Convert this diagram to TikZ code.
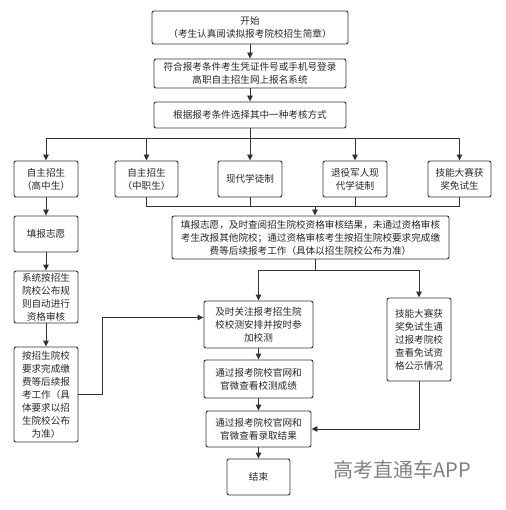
\documentclass[tikz,border=0pt]{standalone}
\usepackage{fontspec}
\setmainfont{Noto Sans CJK SC}
\usepackage{tikz}
\usetikzlibrary{arrows.meta}

\begin{document}
\begin{tikzpicture}[x=1pt,y=-1pt,
    box/.style={draw=black!80, line width=0.9pt, rounded corners=2pt, align=center,
      inner sep=0pt, font=\fontsize{9.6}{13}\selectfont, text=black!85},
    arr/.style={-{Triangle[length=6pt,width=5.5pt]}, draw=black!80, line width=0.9pt},
    ln/.style={draw=black!80, line width=0.9pt}]
    \useasboundingbox (0,0) rectangle (505,510);
    \node[box, minimum width=196pt, minimum height=33pt] (start) at (250,27.5) {开始\\（考生认真阅读拟报考院校招生简章）};
    \node[box, minimum width=192pt, minimum height=29pt] (login) at (250,73.5) {符合报考条件考生凭证件号或手机号登录\\高职自主招生网上报名系统};
    \node[box, minimum width=192pt, minimum height=26pt] (choose) at (250,115) {根据报考条件选择其中一种考核方式};
    \node[box, minimum width=64pt, minimum height=36pt] (a1) at (46,179) {自主招生\\（高中生）};
    \node[box, minimum width=63pt, minimum height=36pt] (a2) at (146.5,179) {自主招生\\（中职生）};
    \node[box, minimum width=64pt, minimum height=36pt] (a3) at (250,179) {现代学徒制};
    \node[box, minimum width=64pt, minimum height=36pt] (a4) at (355,179) {退役军人现\\代学徒制};
    \node[box, minimum width=63pt, minimum height=36pt] (a5) at (459.5,179) {技能大赛获\\奖免试生};
    \node[box, minimum width=64pt, minimum height=36pt] (fill) at (46,234) {填报志愿};
    \node[box, minimum width=64pt, minimum height=52pt] (sys) at (46,297) {系统按招生\\院校公布规\\则自动进行\\资格审核};
    \node[box, minimum width=64pt, minimum height=95pt] (pay) at (46,394.5) {按招生院校\\要求完成缴\\费等后续报\\考工作（具\\体要求以招\\生院校公布\\为准）};
    \node[box, minimum width=277pt, minimum height=43pt] (big) at (310.5,237.5) {填报志愿，及时查阅招生院校资格审核结果，未通过资格审核\\考生改报其他院校；通过资格审核考生按招生院校要求完成缴\\费等后续报考工作（具体以招生院校公布为准）};
    \node[box, minimum width=109pt, minimum height=47pt] (follow) at (258.5,324.5) {及时关注报考招生院\\校校测安排并按时参\\加校测};
    \node[box, minimum width=109pt, minimum height=38pt] (score) at (258.5,379) {通过报考院校官网和\\官微查看校测成绩};
    \node[box, minimum width=105pt, minimum height=36pt] (admit) at (258.5,429) {通过报考院校官网和\\官微查看录取结果};
    \node[box, minimum width=63pt, minimum height=36pt] (end) at (258.5,477) {结束};
    \node[box, minimum width=64pt, minimum height=83pt] (skill) at (419,339.5) {技能大赛获\\奖免试生通\\过报考院校\\查看免试资\\格公示情况};
    \node[text=black!50, font=\fontsize{20}{20}\selectfont] (mark) at (402,470) {高考直通车APP};
    % connectors
    \coordinate (split) at (250,138);
    \coordinate (merge) at (315,206);
    \coordinate (split2) at (315,270);
    \draw[arr] (start) -- (login);
    \draw[arr] (login) -- (choose);
    \draw[ln] (choose) -- (split);
    \foreach \n in {a1,a2,a3,a4,a5}
    \draw[arr] (split) -| (\n);
    \foreach \n in {a2,a3,a4,a5}
    \draw[ln] (\n) |- (merge);
    \draw[arr] (merge) -- (merge |- big.north);
    \draw[ln] (split2 |- big.south) -- (split2);
    \draw[arr] (split2) -| (follow);
    \draw[arr] (split2) -| (skill);
    \draw[arr] (a1) -- (fill);
    \draw[arr] (fill) -- (sys);
    \draw[arr] (sys) -- (pay);
    \draw[arr] (pay.east) -- ++(24,0) |- ([yshift=7pt]follow.west);
    \draw[arr] (follow) -- (score);
    \draw[arr] (score) -- (admit);
    \draw[arr] (admit) -- (end);
    \draw[arr] (skill) |- (admit);
  \end{tikzpicture}
\end{document}
